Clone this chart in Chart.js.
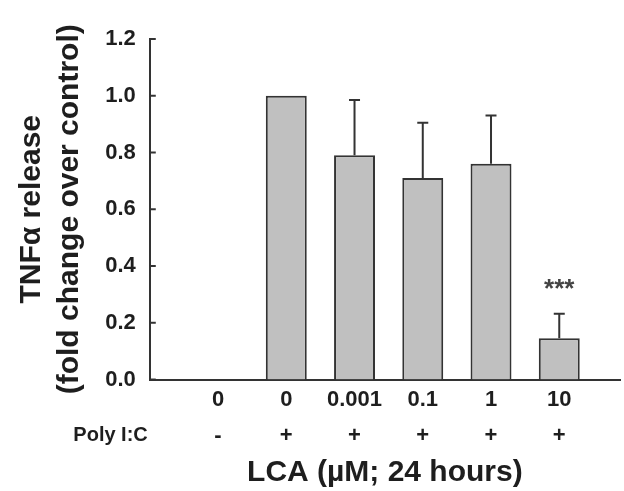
<!DOCTYPE html>
<html lang="en">
<head>
<meta charset="UTF-8">
<title>TNF-alpha release</title>
<script src="https://cdn.jsdelivr.net/npm/chart.js@4"></script>
<style>
  html, body { margin: 0; padding: 0; background: #fff; }
  .wrap { width: 624px; height: 491px; position: relative; }
</style>
</head>
<body>
<div class="wrap"><canvas id="tnfChart"></canvas></div>
<script>
// values
const doses = ['0', '0', '0.001', '0.1', '1', '10'];
const polyIC = ['-', '+', '+', '+', '+', '+'];
const tnfRelease = [null, 1.0, 0.79, 0.71, 0.76, 0.145];
const tnfError = [null, 0, 0.195, 0.195, 0.17, 0.087];
const significance = ['', '', '', '', '', '***'];
const yTicks = [0, 0.2, 0.4, 0.6, 0.8, 1.0, 1.2];

const FONT = "'Liberation Sans', Arial, sans-serif";
const INK = '#333';
const TEXT = '#1e1e1e';

// groups sit at 1..n on a linear axis
const groupPos = doses.map((d, i) => i + 1);
const points = groupPos.map((x, i) => ({ x: x, y: tnfRelease[i] }));

const extras = {
    id: 'extras',
    afterDatasetsDraw(chart) {
        const ctx = chart.ctx;
        const xs = chart.scales.x;
        const ys = chart.scales.y;
        const area = chart.chartArea;
        ctx.save();
        ctx.strokeStyle = INK;
        ctx.lineWidth = 2;

        // error bars (upper only)
        tnfRelease.forEach((v, i) => {
            const e = tnfError[i];
            if (v == null || !e) return;
            const x = xs.getPixelForValue(groupPos[i]);
            const y0 = ys.getPixelForValue(v);
            const y1 = ys.getPixelForValue(v + e);
            ctx.beginPath();
            ctx.moveTo(x, y0);
            ctx.lineTo(x, y1);
            ctx.moveTo(x - 5.5, y1);
            ctx.lineTo(x + 5.5, y1);
            ctx.stroke();
        });

        // inward tick marks on the y axis
        ys.ticks.forEach(t => {
            const y = ys.getPixelForValue(t.value);
            ctx.beginPath();
            ctx.moveTo(area.left, y);
            ctx.lineTo(area.left + 6, y);
            ctx.stroke();
        });

        // significance stars
        ctx.fillStyle = '#444';
        ctx.font = 'bold 26px ' + FONT;
        ctx.textAlign = 'center';
        ctx.textBaseline = 'middle';
        significance.forEach((s, i) => {
            if (!s) return;
            const x = xs.getPixelForValue(groupPos[i]);
            const y = ys.getPixelForValue(tnfRelease[i] + tnfError[i]);
            ctx.fillText(s, x, y - 24);
        });

        // row caption for the second label line
        const tickFont = xs.options.ticks.font;
        const lh = tickFont.size * tickFont.lineHeight;
        ctx.fillStyle = TEXT;
        ctx.font = 'bold 20px ' + FONT;
        ctx.textAlign = 'right';
        ctx.fillText('Poly I:C', area.left - 2, xs.top + xs.options.ticks.padding + lh * 1.5);
        ctx.restore();
    }
};

new Chart(document.getElementById('tnfChart'), {
    type: 'bar',
    data: {
        datasets: [{
            data: points,
            backgroundColor: '#c0c0c0',
            borderColor: INK,
            borderWidth: 2,
            barPercentage: 0.6,
            categoryPercentage: 1.0
        }]
    },
    options: {
        responsive: true,
        maintainAspectRatio: false,
        animation: false,
        layout: { padding: { top: 39, right: 4, bottom: 0, left: 13 } },
        plugins: { legend: { display: false }, tooltip: { enabled: false } },
        scales: {
            x: {
                type: 'linear',
                min: 0,
                max: 6.89,
                offset: false,
                grid: { display: false, drawTicks: false, offset: false },
                border: { display: true, color: INK, width: 2 },
                afterBuildTicks: scale => { scale.ticks = groupPos.map(v => ({ value: v })); },
                ticks: {
                    padding: 2,
                    color: TEXT,
                    font: { family: FONT, size: 22, weight: 'bold', lineHeight: 1.636 },
                    callback: (v, i) => [doses[i], polyIC[i]]
                },
                title: {
                    display: true,
                    text: 'LCA (\u00b5M; 24 hours)',
                    color: TEXT,
                    font: { family: FONT, size: 30, weight: 'bold', lineHeight: 1.15 },
                    padding: { top: 0, bottom: 1 }
                }
            },
            y: {
                min: 0,
                max: 1.2,
                grid: { display: false, drawTicks: false },
                border: { display: true, color: INK, width: 2 },
                afterBuildTicks: scale => { scale.ticks = yTicks.map(v => ({ value: v })); },
                ticks: {
                    padding: 14,
                    color: TEXT,
                    font: { family: FONT, size: 22, weight: 'bold' },
                    callback: v => v.toFixed(1)
                },
                title: {
                    display: true,
                    text: ['TNF\u03b1 release', '(fold change over control)'],
                    color: TEXT,
                    font: { family: FONT, size: 30, weight: 'bold', lineHeight: 1.27 },
                    padding: { top: 0, bottom: 2 }
                }
            }
        }
    },
    plugins: [extras]
});
</script>
</body>
</html>
